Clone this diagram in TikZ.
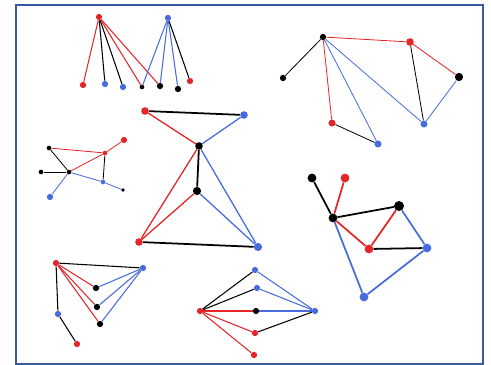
\documentclass[tikz,border=0pt]{standalone}
\usepackage{tikz}
\definecolor{frameblue}{RGB}{55,90,160}
\definecolor{dotred}{RGB}{228,38,42}
\definecolor{dotblue}{RGB}{72,108,222}

\begin{document}
\begin{tikzpicture}[
  x=0.03cm, y=-0.03cm,
  dot/.style={circle, inner sep=0pt, minimum size=5.4pt},
  sdot/.style={circle, inner sep=0pt, minimum size=4pt},
  rdot/.style={dot, fill=dotred},
  bdot/.style={dot, fill=dotblue},
  kdot/.style={dot, fill=black},
  re/.style={draw=dotred, line width=0.9pt},
  be/.style={draw=dotblue, line width=0.9pt},
  ke/.style={draw=black, line width=0.9pt},
  thk/.style={line width=1.5pt}
]
\useasboundingbox (0,0) rectangle (491,365);
\draw[frameblue, line width=2pt] (16.3,5.3) rectangle (483,364);

% top left: two fans
\node[rdot] (fr) at (99,17) {};
\node[bdot] (fb) at (168,18) {};
\node[rdot] (f1) at (83,85) {};
\node[bdot] (f2) at (105,84) {};
\node[bdot] (f3) at (123,87) {};
\node[kdot, sdot] (f4) at (142,87) {};
\node[kdot] (f5) at (160,86) {};
\node[kdot] (f6) at (178,89) {};
\node[rdot] (f7) at (190,81) {};
\draw[re] (fr) -- (f1);
\draw[ke] (fr) -- (f2);
\draw[ke] (fr) -- (f3);
\draw[re] (fr) -- (f4);
\draw[re] (fr) -- (f5);
\draw[be] (fb) -- (f4);
\draw[be] (fb) -- (f5);
\draw[be] (fb) -- (f6);
\draw[ke] (fb) -- (f7);

% top right
\node[kdot] (ta) at (323,37) {};
\node[kdot] (tb) at (283,78) {};
\node[rdot, minimum size=6.5pt] (tc) at (410,42) {};
\node[kdot, minimum size=7pt] (td) at (459,77) {};
\node[rdot, minimum size=6pt] (te) at (332,123) {};
\node[bdot, minimum size=6pt] (tf) at (378,144) {};
\node[bdot, minimum size=6pt] (tg) at (424,124) {};
\draw[ke, line width=0.7pt] (ta) -- (tb);
\draw[re, line width=0.7pt] (ta) -- (tc);
\draw[re, line width=0.7pt] (tc) -- (td);
\draw[ke, line width=0.7pt] (tc) -- (tg);
\draw[be, line width=0.7pt] (td) -- (tg);
\draw[re, line width=0.7pt] (ta) -- (te);
\draw[ke, line width=0.7pt] (te) -- (tf);
\draw[be, line width=0.7pt] (ta) -- (tf);
\draw[be, line width=0.7pt] (ta) -- (tg);

% left middle
\node[kdot, sdot] (la) at (49,148) {};
\node[rdot, sdot] (lb) at (105,153) {};
\node[rdot] (lc) at (124,140) {};
\node[kdot, sdot] (ld) at (41,172) {};
\node[kdot, sdot] (le) at (69,172) {};
\node[bdot, sdot] (lf) at (103,182) {};
\node[kdot, circle, inner sep=0pt, minimum size=3pt] (lg) at (123,190) {};
\node[bdot] (lh) at (50,197) {};
\draw[re, line width=0.7pt] (la) -- (lb);
\draw[ke, line width=0.7pt] (la) -- (le);
\draw[ke, line width=0.7pt] (ld) -- (le);
\draw[re, line width=0.7pt] (le) -- (lb);
\draw[re, line width=0.7pt] (lb) -- (lc);
\draw[ke, line width=0.7pt] (lb) -- (lf);
\draw[be, line width=0.7pt] (le) -- (lf);
\draw[be, line width=0.7pt] (lf) -- (lg);
\draw[be, line width=0.7pt] (le) -- (lh);

% centre
\node[rdot, minimum size=6.5pt] (ctl) at (145,111) {};
\node[bdot, minimum size=6.5pt] (ctr) at (244,115) {};
\node[kdot, minimum size=6.5pt] (cm1) at (199,146) {};
\node[kdot, minimum size=7pt] (cm2) at (197,191) {};
\node[rdot, minimum size=6.5pt] (cbl) at (139,242) {};
\node[bdot, minimum size=7pt] (cbr) at (258,247) {};
\draw[ke, thk] (ctl) -- (ctr);
\draw[re, line width=1.1pt] (ctl) -- (cm1);
\draw[be, line width=1.1pt] (ctr) -- (cm1);
\draw[ke, thk] (cm1) -- (cm2);
\draw[re, line width=1.1pt] (cm1) -- (cbl);
\draw[be, line width=1.1pt] (cm1) -- (cbr);
\draw[re, line width=1.1pt] (cm2) -- (cbl);
\draw[be, line width=1.1pt] (cm2) -- (cbr);
\draw[ke, thk] (cbl) -- (cbr);

% right middle
\node[kdot, minimum size=7.5pt] (ra) at (312,178) {};
\node[rdot, minimum size=7.5pt] (rb) at (345,178) {};
\node[kdot, minimum size=7.5pt] (rc) at (333,218) {};
\node[kdot, minimum size=8.5pt] (rd) at (399,206) {};
\node[rdot, minimum size=7.5pt] (rr) at (369,249) {};
\node[bdot, minimum size=7.5pt] (rf) at (427,248) {};
\node[bdot, minimum size=7.5pt] (rg) at (364,297) {};
\draw[ke, thk] (ra) -- (rc);
\draw[re, thk] (rb) -- (rc);
\draw[ke, thk] (rc) -- (rd);
\draw[re, thk] (rc) -- (rr);
\draw[re, thk] (rr) -- (rd);
\draw[ke, thk] (rr) -- (rf);
\draw[be, thk] (rd) -- (rf);
\draw[be, thk] (rf) -- (rg);
\draw[be, thk] (rc) -- (rg);

% bottom left
\node[rdot] (br) at (56,263) {};
\node[bdot] (bb) at (143,268) {};
\node[kdot] (bk1) at (96,288) {};
\node[kdot] (bk2) at (97,307) {};
\node[kdot] (bk3) at (100,324) {};
\node[bdot] (bb2) at (58,314) {};
\node[rdot] (br2) at (77,344) {};
\draw[ke] (br) -- (bb);
\foreach \k in {bk1,bk2,bk3} {
  \draw[re] (br) -- (\k);
  \draw[be] (bb) -- (\k);
}
\draw[ke] (br) -- (bb2);
\draw[ke] (bb2) -- (br2);

% bottom centre
\node[rdot] (ml) at (200,311) {};
\node[bdot] (mu1) at (255,270) {};
\node[bdot] (mu2) at (257,288) {};
\node[kdot] (mm) at (256,311) {};
\node[rdot] (md1) at (255,333) {};
\node[rdot] (md2) at (254,355) {};
\node[bdot] (mr) at (315,311) {};
\draw[ke] (ml) -- (mu1);
\draw[ke] (ml) -- (mu2);
\draw[re] (ml) -- (mm);
\draw[re] (ml) -- (md1);
\draw[re] (ml) -- (md2);
\draw[be] (mu1) -- (mr);
\draw[be] (mu2) -- (mr);
\draw[be] (mm) -- (mr);
\draw[ke] (md1) -- (mr);
\end{tikzpicture}
\end{document}
